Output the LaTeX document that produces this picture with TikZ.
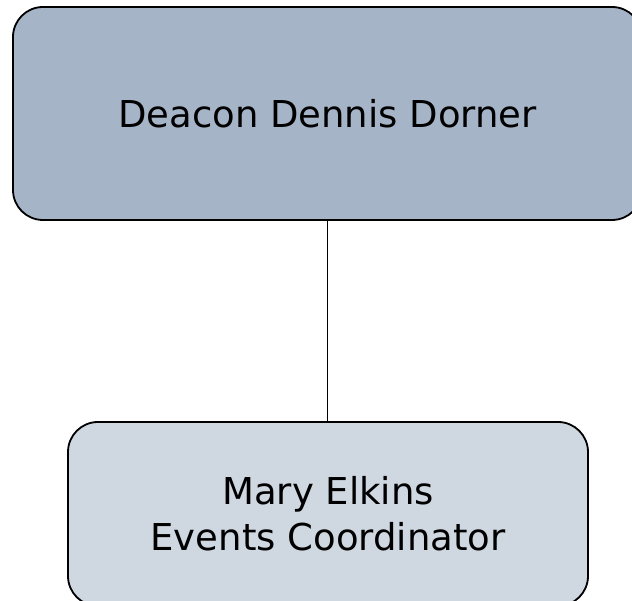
\documentclass[tikz,border=0pt]{standalone}
\usepackage{fontspec}
\setmainfont{DejaVu Sans}
\definecolor{topfill}{HTML}{A6B4C8}
\definecolor{botfill}{HTML}{CFD7E1}
\begin{document}
\begin{tikzpicture}[x=1pt,y=1pt,
  orgbox/.style={draw=black, line width=1.8pt, rounded corners=30pt, inner sep=0pt,
    font=\fontsize{37}{46}\selectfont, align=center},
  link/.style={draw=black, line width=1.8pt}]
\useasboundingbox (0,0) rectangle (632,601);
\clip (0,0) rectangle (632,601);
\fill[white] (0,0) rectangle (632,601);
\node[orgbox, fill=topfill, minimum width=629pt, minimum height=213pt] (top) at (327.5,487.5) {Deacon Dennis Dorner};
\node[orgbox, fill=botfill, minimum width=520pt, minimum height=184pt] (bot) at (328,87) {Mary Elkins\\Events Coordinator};
\draw[link] (top.south) -- (top.south |- bot.north);
\end{tikzpicture}
\end{document}
